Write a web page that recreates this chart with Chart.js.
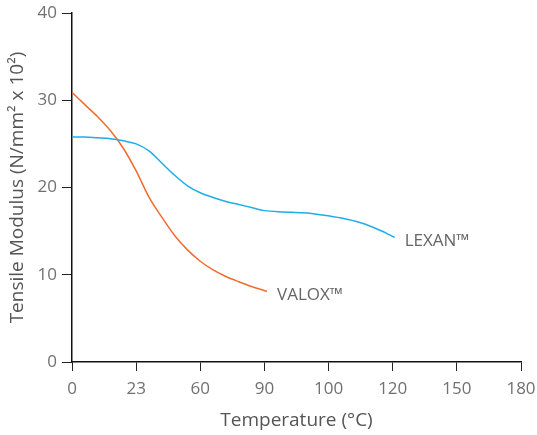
<!DOCTYPE html>
<html>
<head>
<meta charset="utf-8">
<script src="https://cdn.jsdelivr.net/npm/chart.js@4"></script>
<style>
  html, body { margin: 0; padding: 0; background: #fff; }
  #wrap { width: 537px; height: 435px; }
</style>
</head>
<body>
<div id="wrap"><canvas id="chart"></canvas></div>
<script>
// Rótulos do eixo X (espaçados igualmente, um por posição)
const xTickLabels = ['0', '23', '60', '90', '100', '120', '150', '180'];
const yTicks = [0, 10, 20, 30, 40];

// Posição no eixo X (em unidades de posição do tick) e módulo
const lexanX = [0, 0.2, 0.4, 0.6, 0.8, 1.0, 1.2, 1.4, 1.6, 1.8, 2.0, 2.2, 2.4, 2.6, 2.8, 3.0, 3.3, 3.6, 3.9, 4.2, 4.5, 4.8, 5.03];
const lexanY = [25.8, 25.8, 25.7, 25.6, 25.35, 25.0, 24.2, 22.8, 21.4, 20.2, 19.4, 18.85, 18.4, 18.05, 17.7, 17.35, 17.2, 17.1, 16.85, 16.5, 15.95, 15.1, 14.3];

const valoxX = [0, 0.2, 0.4, 0.6, 0.8, 1.0, 1.2, 1.4, 1.6, 1.8, 2.0, 2.2, 2.4, 2.6, 2.8, 3.04];
const valoxY = [30.9, 29.5, 28.1, 26.5, 24.5, 21.9, 18.9, 16.6, 14.5, 12.85, 11.55, 10.55, 9.8, 9.2, 8.65, 8.1];

const seriesNames = ['LEXAN™', 'VALOX™'];

const toPoints = (xs, ys) => xs.map((x, i) => ({ x: x, y: ys[i] }));

const fontFamily = '"Open Sans", sans-serif';

// Rótulo no final de cada curva
const endLabels = {
    id: 'endLabels',
    afterDatasetsDraw(chart) {
        const { ctx, scales } = chart;
        ctx.save();
        ctx.font = '17px ' + fontFamily;
        ctx.fillStyle = '#666';
        ctx.textBaseline = 'middle';
        ctx.textAlign = 'left';
        chart.data.datasets.forEach(ds => {
            const last = ds.data[ds.data.length - 1];
            const px = scales.x.getPixelForValue(last.x) + 10;
            const py = scales.y.getPixelForValue(last.y) + 4;
            ctx.fillText(ds.label, px, py);
        });
        ctx.restore();
    }
};

const ctx = document.getElementById('chart').getContext('2d');

new Chart(ctx, {
    type: 'line',
    data: {
        datasets: [
            {
                label: seriesNames[0],
                data: toPoints(lexanX, lexanY),
                borderColor: '#1DAEE8',
                borderWidth: 1.5,
                pointRadius: 0,
                cubicInterpolationMode: 'monotone'
            },
            {
                label: seriesNames[1],
                data: toPoints(valoxX, valoxY),
                borderColor: '#F26B2F',
                borderWidth: 1.5,
                pointRadius: 0,
                cubicInterpolationMode: 'monotone'
            }
        ]
    },
    options: {
        responsive: true,
        maintainAspectRatio: false,
        animation: false,
        layout: { padding: 0 },
        plugins: {
            legend: { display: false },
            tooltip: { enabled: false }
        },
        scales: {
            x: {
                type: 'linear',
                min: 0,
                max: 7,
                afterFit: s => { s.height = 73; s.paddingRight = 16; },
                afterBuildTicks: s => { s.ticks = xTickLabels.map((_, i) => ({ value: i })); },
                ticks: {
                    callback: (v) => xTickLabels[v],
                    color: '#707070',
                    font: { family: fontFamily, size: 17 },
                    padding: 8,
                    maxRotation: 0
                },
                grid: {
                    drawOnChartArea: false,
                    drawTicks: true,
                    tickLength: 9,
                    color: '#222',
                    lineWidth: 1
                },
                border: { color: '#111', width: 1.5 },
                title: {
                    display: true,
                    text: 'Temperature (°C)',
                    color: '#555',
                    font: { family: fontFamily, size: 19 },
                    padding: { top: 0, bottom: 3 }
                }
            },
            y: {
                min: 0,
                max: 40,
                afterFit: s => { s.width = 72; s.paddingTop = 13; },
                afterBuildTicks: s => { s.ticks = yTicks.map(v => ({ value: v })); },
                ticks: {
                    color: '#707070',
                    font: { family: fontFamily, size: 17 },
                    padding: 5
                },
                grid: {
                    drawOnChartArea: false,
                    drawTicks: true,
                    tickLength: 10,
                    color: '#222',
                    lineWidth: 1
                },
                border: { color: '#111', width: 1.5 },
                title: {
                    display: true,
                    text: 'Tensile Modulus (N/mm² x 10²)',
                    color: '#555',
                    font: { family: fontFamily, size: 19 },
                    padding: { top: 6, bottom: 0 }
                }
            }
        }
    },
    plugins: [endLabels]
});
</script>
</body>
</html>
